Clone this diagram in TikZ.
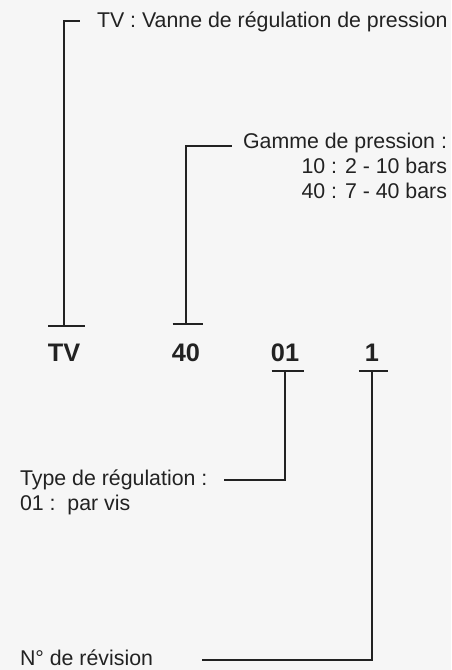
\documentclass[tikz,border=0pt]{standalone}
\usepackage{fontspec}
\setmainfont{Liberation Sans}
\definecolor{bg}{HTML}{F6F6F6}
\definecolor{ink}{HTML}{222222}
\begin{document}
\begin{tikzpicture}[x=0.75pt,y=-0.75pt,
  lead/.style={draw=ink,line width=1.5pt,line join=miter},
  txt/.style={inner sep=0pt,outer sep=0pt,text=ink,font=\fontsize{16}{18.75}\selectfont},
  code/.style={inner sep=0pt,outer sep=0pt,text=ink,font=\fontsize{19}{22}\selectfont\bfseries}]
\fill[bg] (0,0) rectangle (451,670);
\useasboundingbox (0,0) rectangle (451,670);
% code labels
\node[code,anchor=base] (lTV) at (64,361) {TV};
\node[code,anchor=base] (l40) at (186,361) {40};
\node[code,anchor=base] (l01) at (285,361) {01};
\node[code,anchor=base] (l1) at (372,361) {1};
% description texts
\node[txt,anchor=base west] (tvtxt) at (97,28) {TV : Vanne de régulation de pression};
\node[txt,anchor=base east] (gamme1) at (447,149) {Gamme de pression :};
\node[txt,anchor=base east] (gamme2) at (447,174) {10 : 2 - 10 bars};
\node[txt,anchor=base east] (gamme3) at (447,199) {40 : 7 - 40 bars};
\node[txt,anchor=base west] (type1) at (20,485) {Type de régulation :};
\node[txt,anchor=base west] (type2) at (20,510) {01 :\ \ par vis};
\node[txt,anchor=base west] (rev) at (20,665.5) {N° de révision};
% connector points
\coordinate (aTV) at (64,326);
\coordinate (eTV) at (80,21);
\coordinate (a40) at (186,324);
\coordinate (e40) at (232,146);
\coordinate (a01) at (285,371);
\coordinate (e01) at (224,480);
\coordinate (a1) at (371.5,371);
\coordinate (e1) at (202,660);
% bars
\draw[lead] ([xshift=-12]aTV) -- ([xshift=16]aTV);
\draw[lead] ([xshift=-10]a40) -- ([xshift=13]a40);
\draw[lead] ([xshift=-10]a01) -- ([xshift=14]a01);
\draw[lead] ([xshift=-9.5]a1) -- ([xshift=12.5]a1);
% leaders
\draw[lead] (aTV) |- (eTV);
\draw[lead] (a40) |- (e40);
\draw[lead] (a01) |- (e01);
\draw[lead] (a1) |- (e1);
\end{tikzpicture}
\end{document}
